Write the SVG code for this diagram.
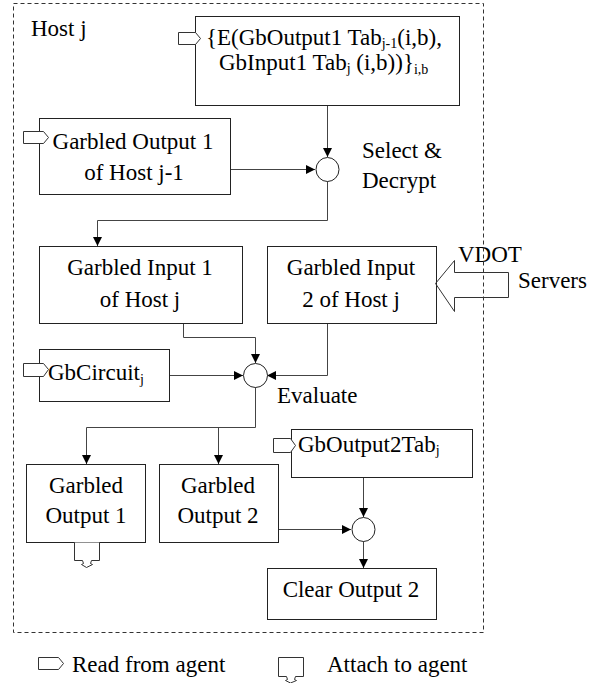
<svg xmlns="http://www.w3.org/2000/svg" width="600" height="683" viewBox="0 0 600 683">
<style>
.box{fill:#fff;stroke:#222;stroke-width:1}
.conn{fill:none;stroke:#444;stroke-width:1}
.sym{fill:#fff;stroke:#333;stroke-width:1}
text{font-family:'Liberation Serif','DejaVu Serif','Times New Roman',serif;font-size:23px;fill:#000}
.m{text-anchor:middle}
.sub{font-size:14px}
</style>
<defs>
<marker id="ah" markerUnits="userSpaceOnUse" markerWidth="9" markerHeight="9" refX="9" refY="4.5" orient="auto">
<path d="M0,0 L9,4.5 L0,9 Z" fill="#000"/>
</marker>
</defs>
<rect width="600" height="683" fill="#fff"/>

<g id="connectors">
<line class="conn" x1="327.5" y1="105" x2="327.5" y2="157" marker-end="url(#ah)"/>
<line class="conn" x1="230" y1="169.5" x2="315" y2="169.5" marker-end="url(#ah)"/>
<polyline class="conn" points="327.5,181 327.5,220.5 97.5,220.5 97.5,246" marker-end="url(#ah)"/>
<polyline class="conn" points="183.5,323 183.5,337.5 255.5,337.5 255.5,363" marker-end="url(#ah)"/>
<polyline class="conn" points="327.5,323 327.5,375.5 267,375.5" marker-end="url(#ah)"/>
<line class="conn" x1="169" y1="375.5" x2="243" y2="375.5" marker-end="url(#ah)"/>
<polyline class="conn" points="255.5,387 255.5,427.5 86.5,427.5 86.5,464" marker-end="url(#ah)"/>
<line class="conn" x1="218.5" y1="427.5" x2="218.5" y2="464" marker-end="url(#ah)"/>
<line class="conn" x1="363.5" y1="477" x2="363.5" y2="517" marker-end="url(#ah)"/>
<line class="conn" x1="278" y1="529.5" x2="351" y2="529.5" marker-end="url(#ah)"/>
<line class="conn" x1="363.5" y1="541" x2="363.5" y2="568" marker-end="url(#ah)"/>
</g>

<g id="host-j">
<text x="31" y="36">Host j</text>
</g>

<g id="enc-table">
<rect class="box" x="195.5" y="16.5" width="264" height="89"/>
<path class="sym" d="M178.5,32.5 H195.5 L200.5,38.5 L195.5,44.5 H178.5 Z"/>
<text x="206" y="45">{E(GbOutput1 Tab<tspan class="sub" dy="3">j-1</tspan><tspan dy="-3">(i,b),</tspan></text>
<text x="219" y="70">GbInput1 Tab<tspan class="sub" dy="3">j</tspan><tspan dy="-3"> (i,b))}</tspan><tspan class="sub" dy="4">i,b</tspan></text>
</g>

<g id="garbled-output1-prev">
<rect class="box" x="39.5" y="118.5" width="191" height="76"/>
<path class="sym" d="M23.5,131.5 H43.5 L48.5,137.5 L43.5,143.5 H23.5 Z"/>
<text class="m" x="133" y="149">Garbled Output 1</text>
<text class="m" x="134" y="180">of Host j-1</text>
</g>

<g id="select-decrypt">
<ellipse cx="327.5" cy="169.5" rx="11.5" ry="12" fill="#fff" stroke="#222"/>
<text x="362" y="158">Select &amp;</text>
<text x="362" y="188">Decrypt</text>
</g>

<g id="garbled-input1">
<rect class="box" x="39.5" y="246.5" width="203" height="77"/>
<text class="m" x="140" y="275">Garbled Input 1</text>
<text class="m" x="140" y="307">of Host j</text>
</g>

<g id="garbled-input2">
<rect class="box" x="267.5" y="246.5" width="169" height="77"/>
<text class="m" x="351" y="275">Garbled Input</text>
<text class="m" x="351" y="307">2 of Host j</text>
</g>

<g id="vdot-servers">
<polygon points="435.5,283.5 454.5,260.5 454.5,272.5 508.5,272.5 508.5,297.5 454.5,297.5 454.5,311.5" fill="none" stroke="#333" stroke-width="1"/>
<text x="458" y="262">VDOT</text>
<text x="518" y="288">Servers</text>
</g>

<g id="gbcircuit">
<rect class="box" x="39.5" y="349.5" width="130" height="52"/>
<path class="sym" d="M23.5,363.5 H43.5 L48.5,369.5 L43.5,376.5 H23.5 Z"/>
<text x="48" y="380">GbCircuit<tspan class="sub" dy="4">j</tspan></text>
</g>

<g id="evaluate">
<ellipse cx="255.5" cy="375.5" rx="12" ry="12" fill="#fff" stroke="#222"/>
<text x="277" y="403">Evaluate</text>
</g>

<g id="garbled-output1">
<rect class="box" x="26.5" y="464.5" width="119" height="78"/>
<text class="m" x="86" y="493">Garbled</text>
<text class="m" x="86" y="523">Output 1</text>
<path class="sym" d="M74.5,542.5 V560.5 H82.5 L83.5,563.5 L81.5,564.5 L86.5,567.5 L92.5,564.5 L90.5,563.5 L91.5,560.5 H99.5 V542.5"/>
</g>

<g id="garbled-output2">
<rect class="box" x="159.5" y="464.5" width="119" height="78"/>
<text class="m" x="218" y="493">Garbled</text>
<text class="m" x="218" y="523">Output 2</text>
</g>

<g id="gboutput2tab">
<rect class="box" x="291.5" y="429.5" width="181" height="48"/>
<path class="sym" d="M273.5,438.5 H290.5 L295.5,445.5 L290.5,452.5 H273.5 Z"/>
<text x="298" y="452">GbOutput2Tab<tspan class="sub" dy="3">j</tspan></text>
</g>

<g id="decode">
<ellipse cx="363.5" cy="529.5" rx="11.5" ry="12" fill="#fff" stroke="#222"/>
</g>

<g id="clear-output2">
<rect class="box" x="267.5" y="568.5" width="169" height="51"/>
<text class="m" x="351" y="597">Clear Output 2</text>
</g>

<rect x="13.5" y="3.5" width="470" height="629" fill="none" stroke="#333" stroke-width="1" stroke-dasharray="4,3"/>

<g id="legend">
<path class="sym" d="M38.5,657.5 H58.5 L63.5,663.5 L58.5,669.5 H38.5 Z"/>
<text x="72" y="672">Read from agent</text>
<path class="sym" d="M278.5,657.5 V676.5 H286.5 L287.5,679.5 L285.5,680.5 L290.5,683 L296.5,680.5 L294.5,679.5 L295.5,676.5 H303.5 V657.5 Z"/>
<text x="327" y="672">Attach to agent</text>
</g>
</svg>
